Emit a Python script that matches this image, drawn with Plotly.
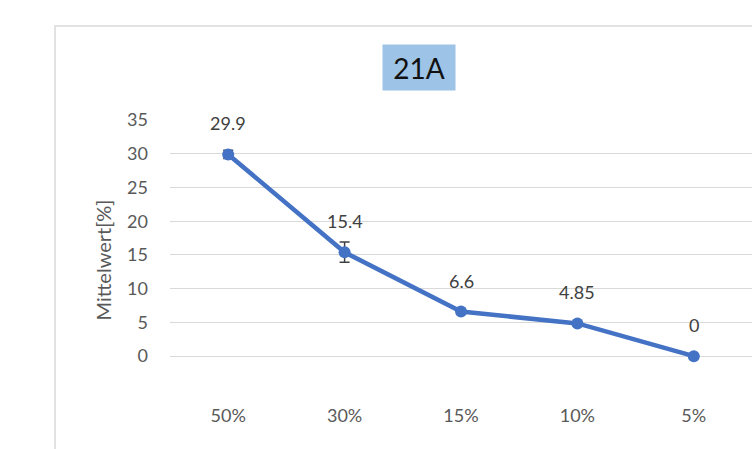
import plotly.graph_objects as go

categories = ["50%", "30%", "15%", "10%", "5%"]
values = [29.9, 15.4, 6.6, 4.85, 0]
errors = [0.6, 1.5, 0.3, 0.3, 0.0]
label_texts = ["29.9", "15.4", "6.6", "4.85", "0"]
y_ticks = [0, 5, 10, 15, 20, 25, 30, 35]

W, H = 752, 449
ml, mr, mt, mb = 170, 0, 120, 49
pw = W - ml - mr
ph = H - mt - mb

blue = "#4472C4"
font = "Lato, 'Open Sans', sans-serif"

fig = go.Figure()
fig.add_trace(go.Scatter(
    x=categories, y=values, mode="lines+markers",
    line=dict(color=blue, width=4.5),
    marker=dict(color=blue, size=12),
    error_y=dict(type="data", array=errors, visible=True, color="#404040",
                 thickness=1.5, width=5),
    showlegend=False, hoverinfo="skip",
))

for c, v, t in zip(categories, values, label_texts):
    fig.add_annotation(x=c, y=v, text=t, showarrow=False, yshift=31,
                       font=dict(family=font, size=18, color="#404040"))

# title box
fig.add_annotation(xref="paper", yref="paper", xanchor="center", yanchor="middle",
                   x=(419 - ml) / pw, y=(H - mb - 67) / ph,
                   text="21A", showarrow=False, bgcolor="#9DC3E6",
                   width=70, height=43, borderpad=1,
                   font=dict(family=font, size=28, color="#111111"))

# chart frame
fig.add_shape(type="rect", xref="paper", yref="paper",
              x0=(55 - ml) / pw, x1=(W + 5 - ml) / pw,
              y0=(H - mb - (H + 5)) / ph, y1=(H - mb - 26) / ph,
              line=dict(color="#D9D9D9", width=1.5), fillcolor="rgba(0,0,0,0)",
              layer="below")

fig.update_layout(
    width=W, height=H, margin=dict(l=ml, r=mr, t=mt, b=mb),
    paper_bgcolor="white", plot_bgcolor="white",
    font=dict(family=font, color="#595959"),
    xaxis=dict(type="category", range=[-0.5, 4.5], showgrid=False, zeroline=False,
               showline=False, ticks="", tickfont=dict(size=18, color="#595959"),
               ticklabelstandoff=3),
    yaxis=dict(range=[-6.5, 35], tickvals=y_ticks, showgrid=True,
               gridcolor="#D9D9D9", gridwidth=1.3, zeroline=False, showline=False,
               tickfont=dict(size=18, color="#595959"), ticklabelstandoff=21,
               title=dict(text="Mittelwert[%]", font=dict(size=20, color="#595959"),
                          standoff=10)),
)

fig.write_html("out.html")
